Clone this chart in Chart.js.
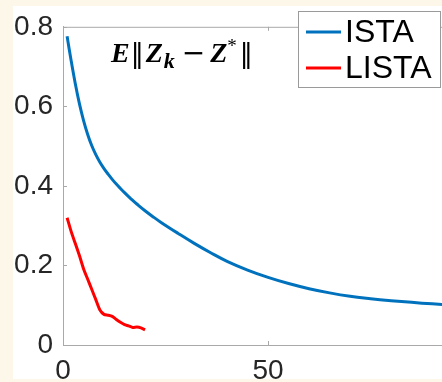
<!DOCTYPE html>
<html>
<head>
<meta charset="utf-8">
<script src="https://cdn.jsdelivr.net/npm/chart.js@4.4.0/dist/chart.umd.min.js"></script>
<style>
  html, body { margin: 0; padding: 0; background: #fcf7e9; }
  #wrap { position: relative; width: 442px; height: 382px; }
</style>
</head>
<body>
<div id="wrap"><canvas id="grafico" width="442" height="382"></canvas></div>
<script>
// dados
const series = ['ISTA', 'LISTA'];
const cores = ['#0072bd', '#ff0000'];

const istaX = [1, 2, 3, 4, 5, 6, 7, 8, 9, 10, 11, 12, 13, 14, 15, 16, 17, 18, 20, 22, 24, 28, 32, 36, 40, 45, 50, 55, 60, 65, 70, 75, 80, 85, 90, 95, 100];
const istaY = [0.776, 0.714, 0.657, 0.607, 0.565, 0.530, 0.5015, 0.4785, 0.4595, 0.4435, 0.4295, 0.4165, 0.4045, 0.3935, 0.383, 0.373, 0.3635, 0.3545, 0.3375, 0.322, 0.3075, 0.281, 0.2555, 0.232, 0.2105, 0.1885, 0.170, 0.1545, 0.1415, 0.131, 0.1225, 0.1165, 0.1115, 0.1072, 0.1035, 0.1003, 0.0975];

const listaX = [1, 2, 3, 4, 5, 6, 7, 8, 9, 10, 11, 12, 13, 14, 15, 16, 17, 18, 19, 20];
const listaY = [0.320, 0.285, 0.255, 0.225, 0.192, 0.166, 0.140, 0.114, 0.088, 0.077, 0.075, 0.072, 0.064, 0.057, 0.051, 0.048, 0.044, 0.045, 0.043, 0.038];

const xTicks = [0, 50];
const yTicks = [0, 0.2, 0.4, 0.6, 0.8];

const corEixo = '#a9a9a9';
const corTexto = '#262626';

// fundo creme com o quadro branco
const fundo = {
  id: 'fundo',
  beforeDraw(chart) {
    const ctx = chart.ctx;
    ctx.save();
    ctx.fillStyle = '#fcf7e9';
    ctx.fillRect(0, 0, chart.width, chart.height);
    ctx.fillStyle = '#ffffff';
    ctx.fillRect(13, 6, chart.width - 13, chart.height - 9);
    ctx.restore();
  }
};

// linha de cima e ticks para dentro
const eixos = {
  id: 'eixos',
  afterDraw(chart) {
    const ctx = chart.ctx;
    const a = chart.chartArea;
    const sx = chart.scales.x, sy = chart.scales.y;
    ctx.save();
    ctx.strokeStyle = corEixo;
    ctx.lineWidth = 1;
    ctx.beginPath();
    ctx.moveTo(a.left, a.top + 0.5);
    ctx.lineTo(a.right, a.top + 0.5);
    yTicks.forEach(v => {
      const py = Math.round(sy.getPixelForValue(v)) + 0.5;
      ctx.moveTo(a.left, py);
      ctx.lineTo(a.left + 4, py);
    });
    xTicks.forEach(v => {
      const px = Math.round(sx.getPixelForValue(v)) + 0.5;
      ctx.moveTo(px, a.bottom);
      ctx.lineTo(px, a.bottom - 4);
      ctx.moveTo(px, a.top);
      ctx.lineTo(px, a.top + 4);
    });
    ctx.stroke();
    ctx.restore();
  }
};

// titulo E||Z_k - Z*|| dentro do grafico
const titulo = {
  id: 'titulo',
  afterDraw(chart) {
    const ctx = chart.ctx;
    const a = chart.chartArea;
    const fonteBI = 'italic bold 28px "Liberation Serif"';
    const fonteK = 'italic bold 22px "Liberation Serif"';
    const fonteN = '26px "DejaVu Sans"';
    let x = a.left + 48;
    const y = a.top + 35;
    const partes = [
      { t: 'E', f: fonteBI, dy: 0, gap: 1 },
      { t: '\u2016', f: fonteN, dy: 0, gap: 2 },
      { t: 'Z', f: fonteBI, dy: 0, gap: 1 },
      { t: 'k', f: fonteK, dy: 6, gap: 7 },
      { t: '\u2212', f: '28px "DejaVu Sans"', dy: 0, gap: 5 },
      { t: 'Z', f: fonteBI, dy: 0, gap: 0 },
      { t: '*', f: '19px "Liberation Serif"', dy: -10, gap: 3 },
      { t: '\u2016', f: fonteN, dy: 0, gap: 0 }
    ];
    ctx.save();
    ctx.fillStyle = '#000';
    ctx.textBaseline = 'alphabetic';
    partes.forEach(p => {
      ctx.font = p.f;
      ctx.fillText(p.t, x, y + p.dy);
      x += ctx.measureText(p.t).width + p.gap;
    });
    ctx.restore();
  }
};

// legenda em caixa no canto superior direito
const legenda = {
  id: 'legenda',
  afterDraw(chart) {
    const ctx = chart.ctx;
    const bx = 298, by = 11, bw = 143, bh = 77;
    ctx.save();
    ctx.fillStyle = '#fff';
    ctx.fillRect(bx, by, bw, bh);
    ctx.strokeStyle = '#9a9a9a';
    ctx.lineWidth = 1;
    ctx.strokeRect(bx + 0.5, by + 0.5, bw - 1, bh - 1);
    ctx.font = '32px "Liberation Sans"';
    ctx.textBaseline = 'middle';
    chart.data.datasets.forEach((ds, i) => {
      const ly = by + 21 + i * 36;
      ctx.strokeStyle = ds.borderColor;
      ctx.lineWidth = 3;
      ctx.beginPath();
      ctx.moveTo(bx + 8, ly);
      ctx.lineTo(bx + 43, ly);
      ctx.stroke();
      ctx.fillStyle = '#000';
      ctx.fillText(ds.label, bx + 47, ly + 1);
    });
    ctx.restore();
  }
};

const ctx = document.getElementById('grafico').getContext('2d');
new Chart(ctx, {
  type: 'line',
  data: {
    datasets: [
      {
        label: series[0],
        data: istaX.map((x, i) => ({ x: x, y: istaY[i] })),
        borderColor: cores[0],
        borderWidth: 3,
        pointRadius: 0,
        tension: 0.4,
        fill: false
      },
      {
        label: series[1],
        data: listaX.map((x, i) => ({ x: x, y: listaY[i] })),
        borderColor: cores[1],
        borderWidth: 3,
        pointRadius: 0,
        tension: 0.2,
        fill: false
      }
    ]
  },
  options: {
    responsive: false,
    animation: false,
    devicePixelRatio: 1,
    layout: { padding: { top: 23, left: 0, right: 0, bottom: 0 } },
    plugins: {
      legend: { display: false },
      title: { display: false },
      tooltip: { enabled: false }
    },
    scales: {
      x: {
        type: 'linear',
        min: 0,
        max: 92.4,
        afterBuildTicks: s => { s.ticks = xTicks.map(v => ({ value: v })); },
        afterFit: s => { s.height = 37; },
        grid: { display: false, drawTicks: false },
        border: { display: true, color: corEixo, width: 1 },
        ticks: {
          font: { family: 'Liberation Sans', size: 28 },
          color: corTexto,
          padding: 9,
          maxRotation: 0
        }
      },
      y: {
        min: 0,
        max: 0.8,
        afterBuildTicks: s => { s.ticks = yTicks.map(v => ({ value: v })); },
        afterFit: s => { s.width = 63; },
        grid: { display: false, drawTicks: false },
        border: { display: true, color: corEixo, width: 1 },
        ticks: {
          font: { family: 'Liberation Sans', size: 28 },
          color: corTexto,
          padding: 10,
          callback: v => v === 0 ? '0' : v.toFixed(1)
        }
      }
    }
  },
  plugins: [fundo, eixos, titulo, legenda]
});
</script>
</body>
</html>
